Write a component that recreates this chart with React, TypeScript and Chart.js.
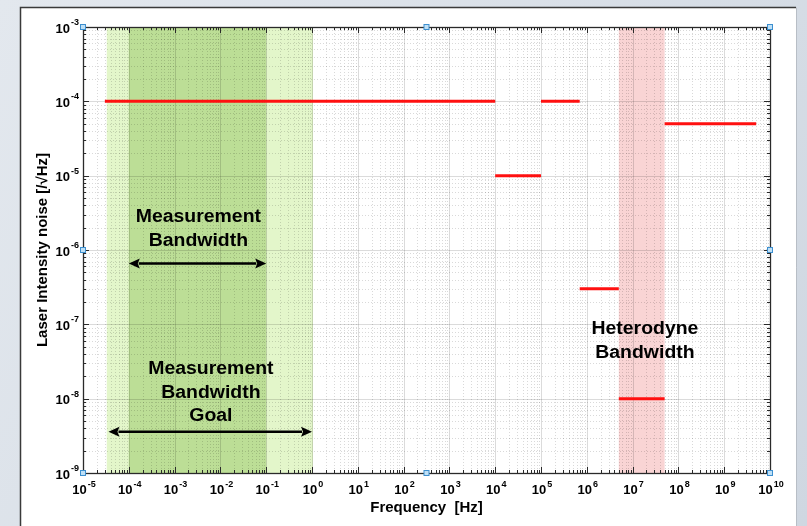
import React, { useEffect, useRef } from 'react';
import { Chart, registerables } from 'chart.js';

Chart.register(...registerables);

// Axis ranges and decade tick exponents
const X_MIN = 1e-5;
const X_MAX = 1e10;
const Y_MIN = 1e-9;
const Y_MAX = 1e-3;
const xTickExponents = [-5, -4, -3, -2, -1, 0, 1, 2, 3, 4, 5, 6, 7, 8, 9, 10];
const yTickExponents = [-9, -8, -7, -6, -5, -4, -3];

// Red requirement segments (frequency start, end, noise level)
const segStart = [3e-5, 1e4, 1e5, 7e5, 5e6, 5e7];
const segEnd = [1e4, 1e5, 7e5, 5e6, 5e7, 5e9];
const segLevel = [1e-4, 1e-5, 1e-4, 3e-7, 1e-8, 5e-5];

// Shaded frequency bands
const bandStart = [3.3e-5, 1e-4, 5e6];
const bandEnd = [1.05, 1e-1, 5e7];
const bandColor = ['#e3f6ca', '#bcde96', '#f9d4d4'];

// Double-headed arrows
const arrowStart = [1e-4, 3.6e-5];
const arrowEnd = [1e-1, 1e0];
const arrowLevel = [6.6e-7, 3.6e-9];

// Text annotations (centre x, first baseline y in data units)
const labelLines = [
  ['Measurement', 'Bandwidth'],
  ['Measurement', 'Bandwidth', 'Goal'],
  ['Heterodyne', 'Bandwidth'],
];
const labelX = [3.3e-3, 6.2e-3, 1.86e7];
const labelY = [2.38e-6, 2.15e-8, 7.41e-8];

const xTitle = 'Frequency  [Hz]';
const yTitle = 'Laser Intensity noise [/\u221AHz]';

const FONT = '"Liberation Sans", Arial, sans-serif';

const decorPlugin = {
  id: 'decor',
  beforeDraw(chart: any) {
    const ctx = chart.ctx as CanvasRenderingContext2D;
    const W = chart.width;
    const H = chart.height;
    const xs = chart.scales.x;
    const ys = chart.scales.y;
    const a = chart.chartArea;
    ctx.save();
    // page background
    const g = ctx.createLinearGradient(0, 0, W, H);
    g.addColorStop(0, '#e3e8ee');
    g.addColorStop(1, '#cfd7e1');
    ctx.fillStyle = g;
    ctx.fillRect(0, 0, W, H);
    // white panel
    ctx.fillStyle = '#ffffff';
    ctx.fillRect(20, 7, 776, H);
    ctx.strokeStyle = '#3a3a3a';
    ctx.lineWidth = 1.5;
    ctx.beginPath();
    ctx.moveTo(20.5, H + 2);
    ctx.lineTo(20.5, 7.5);
    ctx.lineTo(796, 7.5);
    ctx.stroke();
    ctx.strokeStyle = '#b8bec6';
    ctx.lineWidth = 1;
    ctx.beginPath();
    ctx.moveTo(796.5, 7.5);
    ctx.lineTo(796.5, H + 2);
    ctx.stroke();

    // bands
    for (let i = 0; i < bandStart.length; i++) {
      const x0 = xs.getPixelForValue(bandStart[i]);
      const x1 = xs.getPixelForValue(bandEnd[i]);
      ctx.fillStyle = bandColor[i];
      ctx.fillRect(x0, a.top, x1 - x0, a.bottom - a.top);
    }

    // grid
    ctx.lineWidth = 1;
    ctx.strokeStyle = 'rgba(0,0,0,0.15)';
    ctx.setLineDash([1, 2]);
    for (let e = -5; e < 10; e++) {
      for (let k = 2; k <= 9; k++) {
        const px = Math.round(xs.getPixelForValue(k * Math.pow(10, e))) + 0.5;
        ctx.beginPath();
        ctx.moveTo(px, a.top);
        ctx.lineTo(px, a.bottom);
        ctx.stroke();
      }
    }
    for (let e = -9; e < -3; e++) {
      for (let k = 2; k <= 9; k++) {
        const py = Math.round(ys.getPixelForValue(k * Math.pow(10, e))) + 0.5;
        ctx.beginPath();
        ctx.moveTo(a.left, py);
        ctx.lineTo(a.right, py);
        ctx.stroke();
      }
    }
    ctx.setLineDash([]);
    ctx.strokeStyle = 'rgba(0,0,0,0.14)';
    for (const e of xTickExponents) {
      const px = Math.round(xs.getPixelForValue(Math.pow(10, e))) + 0.5;
      ctx.beginPath();
      ctx.moveTo(px, a.top);
      ctx.lineTo(px, a.bottom);
      ctx.stroke();
    }
    for (const e of yTickExponents) {
      const py = Math.round(ys.getPixelForValue(Math.pow(10, e))) + 0.5;
      ctx.beginPath();
      ctx.moveTo(a.left, py);
      ctx.lineTo(a.right, py);
      ctx.stroke();
    }
    ctx.restore();
  },
  afterDraw(chart: any) {
    const ctx = chart.ctx as CanvasRenderingContext2D;
    const xs = chart.scales.x;
    const ys = chart.scales.y;
    const a = chart.chartArea;
    ctx.save();
    const axisColor = '#2a2a2a';
    // ticks
    ctx.strokeStyle = axisColor;
    ctx.lineWidth = 1;
    for (let e = -5; e <= 10; e++) {
      for (let k = 1; k <= 9; k++) {
        if (e === 10 && k > 1) break;
        const v = k * Math.pow(10, e);
        const px = Math.round(xs.getPixelForValue(v)) + 0.5;
        const len = k === 1 ? 6 : 3;
        ctx.beginPath();
        ctx.moveTo(px, a.bottom);
        ctx.lineTo(px, a.bottom - len);
        ctx.moveTo(px, a.top);
        ctx.lineTo(px, a.top + len);
        ctx.stroke();
      }
    }
    for (let e = -9; e <= -3; e++) {
      for (let k = 1; k <= 9; k++) {
        if (e === -3 && k > 1) break;
        const v = k * Math.pow(10, e);
        const py = Math.round(ys.getPixelForValue(v)) + 0.5;
        const len = k === 1 ? 6 : 3;
        ctx.beginPath();
        ctx.moveTo(a.left, py);
        ctx.lineTo(a.left + len, py);
        ctx.moveTo(a.right, py);
        ctx.lineTo(a.right - len, py);
        ctx.stroke();
      }
    }
    // box
    ctx.strokeStyle = axisColor;
    ctx.lineWidth = 1.3;
    ctx.strokeRect(Math.round(a.left) + 0.5, Math.round(a.top) + 0.5, Math.round(a.right - a.left), Math.round(a.bottom - a.top));

    // tick labels
    const baseFont = `bold 13px ${FONT}`;
    const expFont = `bold 9px ${FONT}`;
    ctx.fillStyle = '#000';
    ctx.textBaseline = 'alphabetic';
    ctx.textAlign = 'left';
    const drawPow = (exp: number, x: number, y: number, align: 'center' | 'right', expOff: number) => {
      ctx.font = baseFont;
      const wb = ctx.measureText('10').width;
      ctx.font = expFont;
      const es = String(exp);
      const we = ctx.measureText(es).width;
      const total = wb + 1 + we;
      const start = align === 'center' ? x - total / 2 : x - total;
      ctx.font = baseFont;
      ctx.fillText('10', start, y);
      ctx.font = expFont;
      ctx.fillText(es, start + wb + 1, y - expOff);
    };
    for (const e of xTickExponents) {
      const px = xs.getPixelForValue(Math.pow(10, e));
      drawPow(e, px + 1, a.bottom + 21, 'center', 7);
    }
    for (const e of yTickExponents) {
      const py = ys.getPixelForValue(Math.pow(10, e));
      drawPow(e, a.left - 4, py + 5.5, 'right', 7.5);
    }

    // axis titles
    ctx.font = `bold 15px ${FONT}`;
    ctx.textAlign = 'center';
    ctx.fillText(xTitle, (a.left + a.right) / 2, a.bottom + 39);
    ctx.save();
    ctx.translate(47, (a.top + a.bottom) / 2);
    ctx.rotate(-Math.PI / 2);
    ctx.fillText(yTitle, 0, 0);
    ctx.restore();

    // arrows
    ctx.strokeStyle = '#000';
    ctx.fillStyle = '#000';
    ctx.lineWidth = 2.5;
    for (let i = 0; i < arrowStart.length; i++) {
      const x0 = xs.getPixelForValue(arrowStart[i]);
      const x1 = xs.getPixelForValue(arrowEnd[i]);
      const y = ys.getPixelForValue(arrowLevel[i]);
      const hl = 11;
      const hw = 5;
      ctx.beginPath();
      ctx.moveTo(x0 + hl - 1, y);
      ctx.lineTo(x1 - hl + 1, y);
      ctx.stroke();
      ctx.beginPath();
      ctx.moveTo(x0, y);
      ctx.lineTo(x0 + hl, y - hw);
      ctx.lineTo(x0 + hl - 2, y);
      ctx.lineTo(x0 + hl, y + hw);
      ctx.closePath();
      ctx.fill();
      ctx.beginPath();
      ctx.moveTo(x1, y);
      ctx.lineTo(x1 - hl, y - hw);
      ctx.lineTo(x1 - hl + 2, y);
      ctx.lineTo(x1 - hl, y + hw);
      ctx.closePath();
      ctx.fill();
    }

    // annotations
    ctx.fillStyle = '#000';
    ctx.font = `bold 18px ${FONT}`;
    ctx.textAlign = 'center';
    for (let i = 0; i < labelLines.length; i++) {
      const cx = xs.getPixelForValue(labelX[i]);
      const by = ys.getPixelForValue(labelY[i]);
      labelLines[i].forEach((t, j) => {
        ctx.save();
        ctx.translate(cx, by + j * 23.7);
        ctx.scale(1.08, 1);
        ctx.fillText(t, 0, 0);
        ctx.restore();
      });
    }

    // selection handles
    const hx = [a.left, (a.left + a.right) / 2, a.right];
    const hy = [a.top, (a.top + a.bottom) / 2, a.bottom];
    ctx.lineWidth = 1;
    for (let i = 0; i < 3; i++) {
      for (let j = 0; j < 3; j++) {
        if (i === 1 && j === 1) continue;
        ctx.fillStyle = '#bfe0f6';
        ctx.strokeStyle = '#3d8fcf';
        ctx.fillRect(hx[i] - 2.5, hy[j] - 2.5, 5, 5);
        ctx.strokeRect(hx[i] - 2.5, hy[j] - 2.5, 5, 5);
      }
    }
    ctx.restore();
  },
};

export default function App() {
  const ref = useRef<HTMLCanvasElement | null>(null);
  useEffect(() => {
    document.body.style.margin = '0';
    const canvas = ref.current;
    if (!canvas) return;
    const datasets = segStart.map((s, i) => ({
      label: `seg${i}`,
      data: [
        { x: s, y: segLevel[i] },
        { x: segEnd[i], y: segLevel[i] },
      ],
      borderColor: '#ff1010',
      backgroundColor: '#ff1010',
      borderWidth: 3,
      pointRadius: 0,
      borderCapStyle: 'butt' as const,
      fill: false,
    }));
    const chart = new Chart(canvas, {
      type: 'line',
      data: { datasets },
      options: {
        responsive: false,
        animation: false,
        layout: { padding: { left: 83, top: 27, right: 37, bottom: 53 } },
        scales: {
          x: { type: 'logarithmic', min: X_MIN, max: X_MAX, display: false },
          y: { type: 'logarithmic', min: Y_MIN, max: Y_MAX, display: false },
        },
        plugins: { legend: { display: false }, tooltip: { enabled: false } },
      },
      plugins: [decorPlugin],
    });
    return () => chart.destroy();
  }, []);
  return <canvas ref={ref} width={807} height={526} style={{ display: 'block' }} />;
}
